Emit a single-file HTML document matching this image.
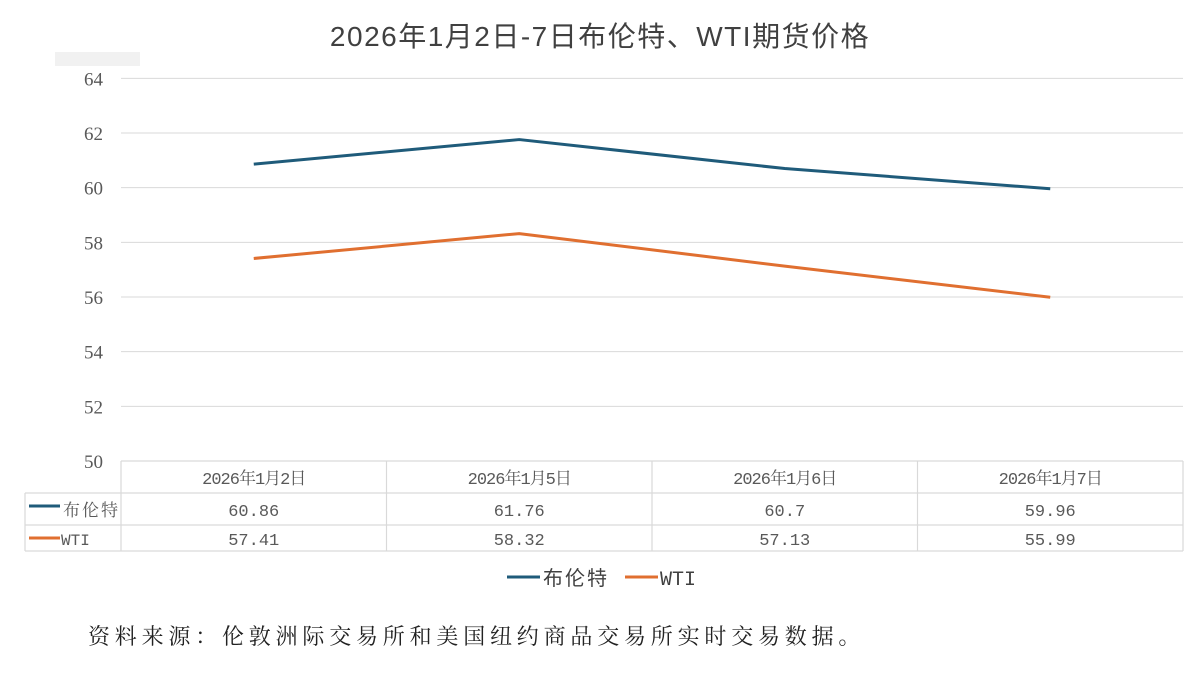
<!DOCTYPE html>
<html><head><meta charset="utf-8"><style>
body{margin:0;background:#fff;width:1200px;height:669px;overflow:hidden;font-family:"Liberation Serif","Noto Serif CJK SC",serif;}
</style></head><body>
<svg width="1200" height="669" xmlns="http://www.w3.org/2000/svg">
<text x="600" y="46" text-anchor="middle" font-family="Liberation Sans,Noto Sans CJK SC,sans-serif" font-size="28" letter-spacing="1.5" fill="#404040">2026年1月2日-7日布伦特、WTI期货价格</text>
<rect x="55" y="52" width="85" height="14" fill="#eeeeee" opacity="0.8"/>
<g id="grid"></g><g id="series"></g><g id="table"></g>
<g>
<line x1="507" y1="577" x2="540" y2="577" stroke="#1f5b7a" stroke-width="3"/>
<text x="543" y="585" font-size="20" fill="#404040" letter-spacing="2" font-family="Liberation Sans,Noto Sans CJK SC,sans-serif">布伦特</text>
<line x1="625" y1="577" x2="658" y2="577" stroke="#e06f30" stroke-width="3"/>
<text x="660" y="585" font-size="20" fill="#404040" font-family="Liberation Mono,monospace">WTI</text>
</g>
<text x="88" y="644" font-size="22" letter-spacing="4.8" fill="#222">资料来源：伦敦洲际交易所和美国纽约商品交易所实时交易数据。</text>
</svg>
<script>
const categories=["2026年1月2日","2026年1月5日","2026年1月6日","2026年1月7日"];
const brent=[60.86,61.76,60.7,59.96];
const wti=[57.41,58.32,57.13,55.99];
const yTicks=[50,52,54,56,58,60,62,64];
const seriesNames=["布伦特","WTI"];
const NS="http://www.w3.org/2000/svg";
const x0=121,x1=1183,cw=(x1-x0)/categories.length;
function xs(i){return x0+cw*(i+0.5);}
function ys(v){return 461-(v-50)*27.333;}
function mk(t,a,p,txt){const e=document.createElementNS(NS,t);for(const k in a)e.setAttribute(k,a[k]);if(txt!=null)e.textContent=txt;p.appendChild(e);return e;}
const g=document.getElementById('grid');
yTicks.forEach(v=>{
 if(v>50){const l=mk('line',{x1:x0,x2:x1,y1:ys(v),y2:ys(v),stroke:'#d9d9d9','stroke-width':1},g);
 
 }
 const t=mk('text',{x:103,y:ys(v)+7,'text-anchor':'end','font-size':19,fill:'#595959'},g,String(v));
 
 
});
const s=document.getElementById('series');
[[brent,'#1f5b7a','brent-line'],[wti,'#e06f30','wti-line']].forEach(([d,c,n])=>{
 const p=mk('polyline',{points:d.map((v,i)=>xs(i)+','+ys(v)).join(' '),fill:'none',stroke:c,'stroke-width':3,'stroke-linejoin':'round'},s);
 
 
});
const tb=document.getElementById('table');
const st={stroke:'#d9d9d9','stroke-width':1.2};
mk('line',Object.assign({x1:x0,x2:x1,y1:461,y2:461},st),tb);
[493,525,551].forEach(y=>mk('line',Object.assign({x1:25,x2:x1,y1:y,y2:y},st),tb));
mk('line',Object.assign({x1:25,x2:25,y1:493,y2:551},st),tb);
for(let i=0;i<=categories.length;i++)mk('line',Object.assign({x1:x0+cw*i,x2:x0+cw*i,y1:461,y2:551},st),tb);
categories.forEach((c,i)=>{
 const t=mk('text',{x:xs(i),y:484,'text-anchor':'middle','font-size':17,fill:'#595959','font-family':'Liberation Mono,Noto Serif CJK SC,monospace','letter-spacing':'-1'},tb,c);
 
 
 const a=mk('text',{x:xs(i),y:516,'text-anchor':'middle','font-size':17,fill:'#595959','font-family':'Liberation Mono,monospace'},tb,String(brent[i]));
 
 
 const b=mk('text',{x:xs(i),y:545,'text-anchor':'middle','font-size':17,fill:'#595959','font-family':'Liberation Mono,monospace'},tb,String(wti[i]));
 
 
});
mk('line',{x1:29,x2:60,y1:506,y2:506,stroke:'#1f5b7a','stroke-width':3},tb);
mk('text',{x:63,y:516,'font-size':17,fill:'#595959','letter-spacing':'2'},tb,seriesNames[0]);
mk('line',{x1:29,x2:60,y1:538,y2:538,stroke:'#e06f30','stroke-width':3},tb);
mk('text',{x:61,y:545,'font-size':16,fill:'#595959','font-family':'Liberation Mono,monospace'},tb,seriesNames[1]);
</script>
</body></html>
